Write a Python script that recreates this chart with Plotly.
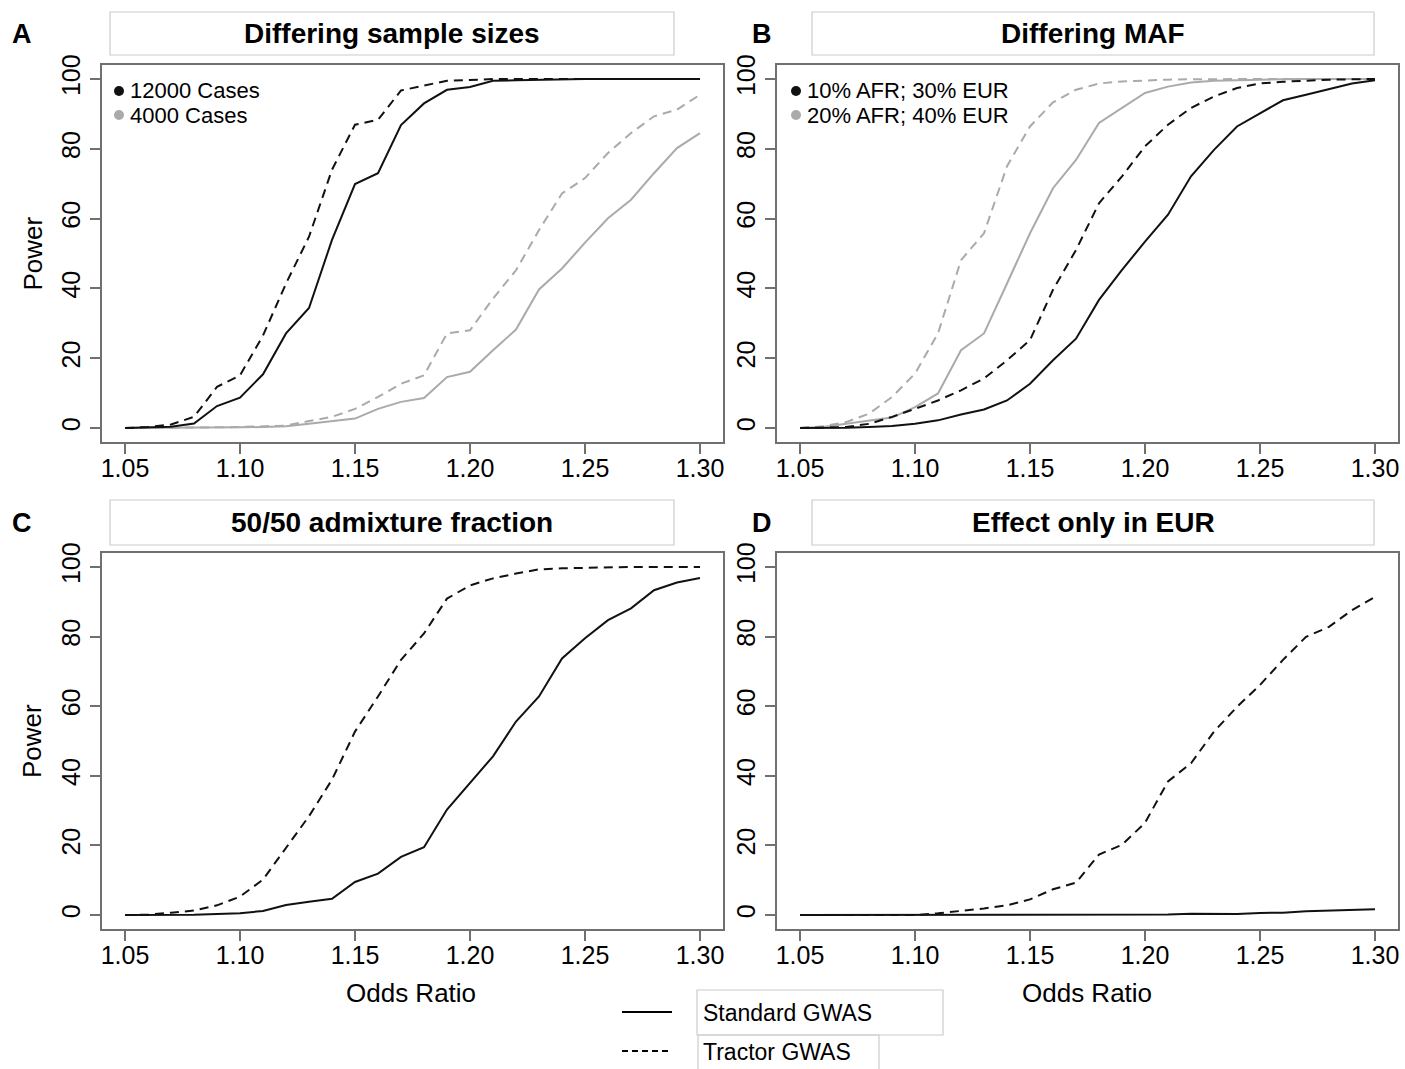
import plotly.graph_objects as go

odds_ratio = [1.05, 1.06, 1.07, 1.08, 1.09, 1.10, 1.11, 1.12, 1.13, 1.14, 1.15, 1.16, 1.17,
              1.18, 1.19, 1.20, 1.21, 1.22, 1.23, 1.24, 1.25, 1.26, 1.27, 1.28, 1.29, 1.30]
x_ticks = [1.05, 1.10, 1.15, 1.20, 1.25, 1.30]
x_tick_labels = ["1.05", "1.10", "1.15", "1.20", "1.25", "1.30"]
y_ticks = [0, 20, 40, 60, 80, 100]
y_tick_labels = ["0", "20", "40", "60", "80", "100"]

# Panel A: differing sample sizes
a_12000_standard = [0, 0.2, 0.4, 1.3, 6.3, 8.7, 15.4, 27.1, 34.4, 53.9, 69.9, 73.0, 86.8,
                    93.0, 96.9, 97.7, 99.5, 99.6, 99.8, 99.9, 100, 100, 100, 100, 100, 100]
a_12000_tractor = [0, 0.3, 1.0, 3.2, 11.8, 15.1, 26.5, 41.4, 54.8, 74.0, 86.9, 88.3, 96.7,
                   98.1, 99.5, 99.7, 100, 100, 100, 100, 100, 100, 100, 100, 100, 100]
a_4000_standard = [0, 0, 0, 0, 0.1, 0.2, 0.3, 0.5, 1.2, 2.0, 2.7, 5.5, 7.5,
                   8.6, 14.6, 16.1, 22.3, 28.2, 39.7, 45.7, 53.1, 60.1, 65.4, 73.0, 80.2, 84.5]
a_4000_tractor = [0, 0, 0, 0.1, 0.2, 0.3, 0.5, 0.7, 2.0, 3.2, 5.5, 8.9, 12.7,
                  15.1, 27.1, 28.0, 37.1, 45.2, 56.7, 67.2, 71.6, 78.8, 84.5, 89.3, 91.2, 95.5]

# Panel B: differing MAF
b_10_standard = [0, 0, 0.1, 0.3, 0.6, 1.2, 2.2, 3.9, 5.3, 7.9, 12.7, 19.4, 25.6,
                 36.7, 45.3, 53.4, 61.1, 72.1, 79.7, 86.4, 90.2, 93.9, 95.5, 97.1, 98.7, 99.6]
b_10_tractor = [0, 0.1, 0.3, 1.2, 3.2, 5.5, 7.9, 10.8, 14.2, 19.4, 25.2, 39.6, 51.0,
                64.4, 72.1, 80.7, 86.9, 91.7, 95.0, 97.4, 98.7, 99.2, 99.6, 99.8, 99.9, 100]
b_20_standard = [0, 0.3, 1.2, 2.0, 3.0, 6.0, 9.9, 22.3, 27.1, 41.4, 55.8, 68.7, 76.8,
                 87.4, 91.7, 96.0, 97.8, 99.0, 99.5, 99.7, 99.8, 99.9, 100, 100, 100, 100]
b_20_tractor = [0, 0.5, 1.7, 4.1, 8.9, 15.6, 27.1, 48.1, 55.8, 75.0, 86.4, 93.3, 96.9,
                98.7, 99.3, 99.6, 99.8, 99.9, 100, 100, 100, 100, 100, 100, 100, 100]

# Panel C: 50/50 admixture fraction
c_standard = [0, 0, 0.1, 0.1, 0.3, 0.5, 1.2, 2.9, 3.8, 4.7, 9.5, 11.9, 16.7,
              19.5, 30.3, 38.1, 45.6, 55.6, 62.8, 73.7, 79.5, 84.7, 88.1, 93.3, 95.5, 96.8]
c_tractor = [0, 0.1, 0.7, 1.3, 2.8, 5.3, 10.2, 19.3, 28.4, 38.9, 52.7, 62.8, 73.3,
             80.9, 90.9, 94.7, 96.7, 98.1, 99.3, 99.6, 99.8, 100, 100, 100, 100, 100]

# Panel D: effect only in EUR
d_standard = [0, 0, 0, 0, 0, 0, 0, 0, 0, 0, 0, 0, 0,
              0, 0, 0.1, 0.2, 0.4, 0.4, 0.3, 0.6, 0.7, 1.1, 1.3, 1.4, 1.7]
d_tractor = [0, 0, 0, 0, 0, 0, 0.5, 1.1, 1.9, 2.8, 4.5, 7.4, 9.3,
             17.4, 20.2, 26.5, 38.4, 43.6, 52.7, 59.8, 66.1, 73.3, 79.9, 82.8, 87.6, 91.4]

panel_titles = ["Differing sample sizes", "Differing MAF", "50/50 admixture fraction", "Effect only in EUR"]
panel_letters = ["A", "B", "C", "D"]
legend_a = ["12000 Cases", "4000 Cases"]
legend_b = ["10% AFR; 30% EUR", "20% AFR; 40% EUR"]
method_labels = ["Standard GWAS", "Tractor GWAS"]

W, H = 1405, 1069
BLACK = "#111111"
GRAY = "#aaaaaa"
FRAME = "#707070"
FONT = "Liberation Sans, Arial, Helvetica, sans-serif"
DASH = "9px,6px"


def px(x):
    return x / W


def py(y):
    return 1 - y / H


fig = go.Figure()


def add_line(yvals, color, dash, axis_idx):
    suffix = "" if axis_idx == 1 else str(axis_idx)
    fig.add_trace(go.Scatter(
        x=odds_ratio, y=yvals, mode="lines",
        line=dict(color=color, width=2, dash=dash),
        xaxis="x" + suffix, yaxis="y" + suffix, showlegend=False, hoverinfo="skip"))


add_line(a_4000_standard, GRAY, "solid", 1)
add_line(a_4000_tractor, GRAY, DASH, 1)
add_line(a_12000_standard, BLACK, "solid", 1)
add_line(a_12000_tractor, BLACK, DASH, 1)

add_line(b_20_standard, GRAY, "solid", 2)
add_line(b_20_tractor, GRAY, DASH, 2)
add_line(b_10_standard, BLACK, "solid", 2)
add_line(b_10_tractor, BLACK, DASH, 2)

add_line(c_standard, BLACK, "solid", 3)
add_line(c_tractor, BLACK, DASH, 3)

add_line(d_standard, BLACK, "solid", 4)
add_line(d_tractor, BLACK, DASH, 4)

# panel geometry in pixels: (left, right, top, bottom)
panels = [(102, 723, 65, 442), (777, 1398, 65, 442), (102, 723, 553, 929), (777, 1398, 553, 929)]

layout = dict(
    width=W, height=H, margin=dict(l=0, r=0, t=0, b=0, pad=0, autoexpand=False),
    paper_bgcolor="white", plot_bgcolor="white",
    font=dict(family=FONT, color="black"),
    showlegend=False,
)

for i, (l, r, t, b) in enumerate(panels):
    suffix = "" if i == 0 else str(i + 1)
    layout["xaxis" + suffix] = dict(
        domain=[px(l), px(r)], range=[1.04, 1.31], anchor="y" + suffix,
        tickvals=x_ticks, ticktext=x_tick_labels, automargin=False,
        showline=True, mirror=True, linecolor=FRAME, linewidth=1.5,
        ticks="outside", ticklen=10, tickwidth=1.5, tickcolor=FRAME,
        showgrid=False, zeroline=False, tickfont=dict(size=25, family=FONT, color="black"),
        ticklabelstandoff=-7, fixedrange=True)
    layout["yaxis" + suffix] = dict(
        domain=[py(b), py(t)], range=[-4, 104], anchor="x" + suffix,
        tickvals=y_ticks, ticktext=y_tick_labels, tickangle=-90, automargin=False,
        showline=True, mirror=True, linecolor=FRAME, linewidth=1.5,
        ticks="outside", ticklen=10, tickwidth=1.5, tickcolor=FRAME,
        showgrid=False, zeroline=False, tickfont=dict(size=25, family=FONT, color="black"),
        ticklabelstandoff=0, fixedrange=True)

fig.update_layout(**layout)

shapes = []
annotations = []

# title boxes
title_boxes = [(110, 674, 12, 55), (812, 1374, 12, 55), (110, 674, 500, 545), (812, 1374, 500, 545)]
letter_pos = [(22, 34), (762, 34), (22, 523), (762, 523)]
for i, (l, r, t, b) in enumerate(title_boxes):
    shapes.append(dict(type="rect", xref="paper", yref="paper",
                       x0=px(l), x1=px(r), y0=py(b), y1=py(t),
                       line=dict(color="#cccccc", width=1.2), fillcolor="white"))
    annotations.append(dict(text="<b>" + panel_titles[i] + "</b>", xref="paper", yref="paper",
                            x=px((l + r) / 2), y=py((t + b) / 2), xanchor="center", yanchor="middle",
                            showarrow=False, font=dict(size=28, family=FONT, color="black")))
    lx, ly = letter_pos[i]
    annotations.append(dict(text="<b>" + panel_letters[i] + "</b>", xref="paper", yref="paper",
                            x=px(lx), y=py(ly), xanchor="center", yanchor="middle",
                            showarrow=False, font=dict(size=27, family=FONT, color="black")))

# axis titles
for cy in [253.5, 741]:
    annotations.append(dict(text="Power", xref="paper", yref="paper", x=px(32), y=py(cy),
                            xanchor="center", yanchor="middle", textangle=-90, showarrow=False,
                            font=dict(size=26, family=FONT, color="black")))
for cx in [411, 1087]:
    annotations.append(dict(text="Odds Ratio", xref="paper", yref="paper", x=px(cx), y=py(993),
                            xanchor="center", yanchor="middle", showarrow=False,
                            font=dict(size=26, family=FONT, color="black")))

# in-panel legends
def panel_legend(labels, x_dot, x_text, ys):
    colors = [BLACK, GRAY]
    for lab, yv, col in zip(labels, ys, colors):
        shapes.append(dict(type="circle", xref="paper", yref="paper",
                           x0=px(x_dot - 5), x1=px(x_dot + 5), y0=py(yv + 5), y1=py(yv - 5),
                           line=dict(color=col, width=0), fillcolor=col))
        annotations.append(dict(text=lab, xref="paper", yref="paper", x=px(x_text), y=py(yv),
                                xanchor="left", yanchor="middle", showarrow=False,
                                font=dict(size=22, family=FONT, color="black")))


panel_legend(legend_a, 119, 128, [91, 115])
panel_legend(legend_b, 796, 805, [91, 115])

# bottom legend
shapes.append(dict(type="line", xref="paper", yref="paper", x0=px(622), x1=px(672),
                   y0=py(1012), y1=py(1012), line=dict(color="black", width=2)))
shapes.append(dict(type="line", xref="paper", yref="paper", x0=px(622), x1=px(670),
                   y0=py(1051), y1=py(1051), line=dict(color="black", width=2, dash="6px,4px")))
shapes.append(dict(type="rect", xref="paper", yref="paper", x0=px(697), x1=px(943),
                   y0=py(1035), y1=py(990), line=dict(color="#cccccc", width=1.2)))
shapes.append(dict(type="rect", xref="paper", yref="paper", x0=px(698), x1=px(879),
                   y0=py(1080), y1=py(1035), line=dict(color="#cccccc", width=1.2)))
annotations.append(dict(text=method_labels[0], xref="paper", yref="paper", x=px(701), y=py(1013),
                        xanchor="left", yanchor="middle", showarrow=False,
                        font=dict(size=23, family=FONT, color="black")))
annotations.append(dict(text=method_labels[1], xref="paper", yref="paper", x=px(701), y=py(1052),
                        xanchor="left", yanchor="middle", showarrow=False,
                        font=dict(size=23, family=FONT, color="black")))

fig.update_layout(shapes=shapes, annotations=annotations)
fig.write_html("out.html")
